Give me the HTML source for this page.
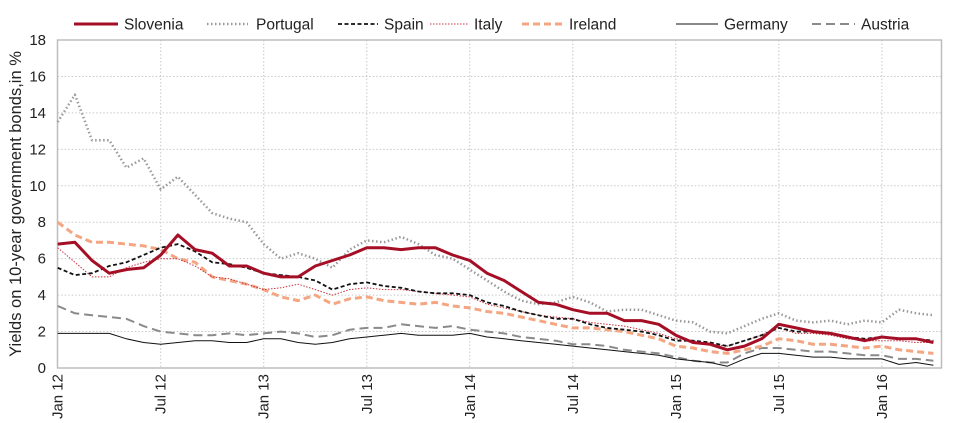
<!DOCTYPE html>
<html><head><meta charset="utf-8"><style>
body{margin:0;background:#fff;}
svg{display:block;font-family:"Liberation Sans",sans-serif;}
</style></head><body>
<svg id="chart" width="960" height="423" viewBox="0 0 960 423" xmlns="http://www.w3.org/2000/svg">
<g id="grid"></g>
<rect x="57.5" y="40" width="884" height="328" fill="none" stroke="#bdbdbd" stroke-width="1.5"/>
<g id="series"></g>
<g id="yticks"></g>
<g id="xticks"></g>
<text transform="translate(21,204) rotate(-90)" text-anchor="middle" font-size="16.5" fill="#222">Yields on 10-year government bonds,in %</text>
<g id="legend"></g>
</svg>
<script>
const months = [0,1,2,3,4,5,6,7,8,9,10,11,12,13,14,15,16,17,18,19,20,21,22,23,24,25,26,27,28,29,30,31,32,33,34,35,36,37,38,39,40,41,42,43,44,45,46,47,48,49,50,51];
const slovenia = [6.8,6.9,5.9,5.2,5.4,5.5,6.2,7.3,6.5,6.3,5.6,5.6,5.2,5.0,5.0,5.6,5.9,6.2,6.6,6.6,6.5,6.6,6.6,6.2,5.9,5.2,4.8,4.2,3.6,3.5,3.2,3.0,3.0,2.6,2.6,2.4,1.8,1.4,1.3,1.0,1.2,1.6,2.4,2.2,2.0,1.9,1.7,1.5,1.7,1.6,1.6,1.4];
const portugal = [13.5,15.0,12.5,12.5,11.0,11.5,9.8,10.5,9.5,8.5,8.2,8.0,6.8,6.0,6.3,6.0,5.5,6.5,7.0,6.9,7.2,6.8,6.2,6.0,5.4,4.8,4.2,3.7,3.5,3.6,3.9,3.6,3.1,3.2,3.2,2.9,2.6,2.5,2.0,1.9,2.3,2.7,3.0,2.6,2.5,2.6,2.4,2.6,2.5,3.2,3.0,2.9];
const spain = [5.5,5.1,5.2,5.6,5.8,6.2,6.6,6.8,6.4,5.8,5.7,5.5,5.2,5.1,5.0,4.8,4.3,4.6,4.7,4.5,4.4,4.2,4.1,4.1,4.0,3.6,3.4,3.1,2.9,2.7,2.7,2.4,2.2,2.1,2.0,1.8,1.5,1.5,1.4,1.2,1.5,1.8,2.2,2.0,2.0,1.9,1.7,1.6,1.7,1.6,1.6,1.5];
const italy = [6.6,5.8,5.0,5.0,5.5,5.8,6.0,6.0,5.6,5.0,4.9,4.6,4.3,4.4,4.6,4.3,4.0,4.3,4.4,4.3,4.3,4.2,4.1,4.0,3.9,3.5,3.3,3.1,2.9,2.8,2.7,2.5,2.4,2.3,2.1,1.9,1.6,1.5,1.3,1.2,1.5,1.8,2.2,1.9,1.9,1.8,1.6,1.5,1.5,1.5,1.4,1.4];
const ireland = [8.0,7.3,6.9,6.9,6.8,6.7,6.5,6.0,5.8,5.0,4.8,4.6,4.3,3.9,3.7,4.0,3.5,3.8,3.9,3.7,3.6,3.5,3.6,3.4,3.3,3.1,3.0,2.8,2.6,2.4,2.2,2.2,2.1,2.0,1.8,1.6,1.2,1.1,0.9,0.8,1.0,1.2,1.6,1.5,1.3,1.3,1.2,1.1,1.2,1.0,0.9,0.8];
const germany = [1.9,1.9,1.9,1.9,1.6,1.4,1.3,1.4,1.5,1.5,1.4,1.4,1.6,1.6,1.4,1.3,1.4,1.6,1.7,1.8,1.9,1.8,1.8,1.8,1.9,1.7,1.6,1.5,1.4,1.3,1.2,1.1,1.0,0.9,0.8,0.7,0.5,0.4,0.3,0.1,0.5,0.8,0.8,0.7,0.6,0.6,0.5,0.5,0.5,0.2,0.3,0.15];
const austria = [3.4,3.0,2.9,2.8,2.7,2.3,2.0,1.9,1.8,1.8,1.9,1.8,1.9,2.0,1.9,1.7,1.8,2.1,2.2,2.2,2.4,2.3,2.2,2.3,2.1,2.0,1.9,1.7,1.6,1.5,1.3,1.3,1.2,1.0,0.9,0.8,0.6,0.4,0.3,0.3,0.8,1.1,1.1,1.0,0.9,0.9,0.8,0.7,0.7,0.5,0.5,0.4];
const yTicks = [0,2,4,6,8,10,12,14,16,18];
const xTickLabels = ["Jan 12","Jul 12","Jan 13","Jul 13","Jan 14","Jul 14","Jan 15","Jul 15","Jan 16"];
const xTickMonths = [0,6,12,18,24,30,36,42,48];

const NS="http://www.w3.org/2000/svg";
const X0=57.7, PX_PER_MONTH=17.17, Y0=368, Y1=40, YMAX=18;
function xs(m){return X0+m*PX_PER_MONTH;}
function ys(v){return Y0-(v/YMAX)*(Y0-Y1);}
function mk(tag,attrs,parent){const e=document.createElementNS(NS,tag);for(const k in attrs)e.setAttribute(k,attrs[k]);parent.appendChild(e);return e;}

const grid=document.getElementById('grid');
yTicks.forEach(v=>{ if(v===0||v===18)return;
  const l=mk('line',{x1:X0,x2:941.5,y1:ys(v),y2:ys(v),stroke:'#c8c8c8','stroke-width':1,'stroke-dasharray':'1.5,2'},grid);
  
  
});
xTickMonths.forEach(m=>{ if(m===0)return;
  const l=mk('line',{x1:xs(m),x2:xs(m),y1:Y1,y2:Y0,stroke:'#c8c8c8','stroke-width':1,'stroke-dasharray':'1.5,2'},grid);
  
  
});
const yt=document.getElementById('yticks');
yTicks.forEach(v=>{
  const t=mk('text',{x:46,y:ys(v)+5,'text-anchor':'end','font-size':15,fill:'#222'},yt);
  t.textContent=v;
  
  
});
const xt=document.getElementById('xticks');
xTickMonths.forEach((m,i)=>{
  const t=mk('text',{transform:`translate(${xs(m)+5},374) rotate(-90)`,'text-anchor':'end','font-size':15,fill:'#222'},xt);
  t.textContent=xTickLabels[i];
  
  
});

const styles=[
 {name:'Austria',data:austria,stroke:'#8a8a8a',w:2,dash:'9,5'},
 {name:'Germany',data:germany,stroke:'#111',w:1,dash:''},
 {name:'Ireland',data:ireland,stroke:'#f4a582',w:3,dash:'7,4'},
 {name:'Portugal',data:portugal,stroke:'#999',w:2.5,dash:'1.5,2.5'},
 {name:'Italy',data:italy,stroke:'#c8323f',w:1,dash:'1.5,1.5'},
 {name:'Spain',data:spain,stroke:'#111',w:1.8,dash:'4,2.5'},
 {name:'Slovenia',data:slovenia,stroke:'#a50f26',w:3,dash:''}
];
const sg=document.getElementById('series');
styles.forEach(s=>{
  const d=s.data.map((v,i)=>(i?'L':'M')+xs(months[i]).toFixed(1)+','+ys(v).toFixed(1)).join(' ');
  const p=mk('path',{d:d,fill:'none',stroke:s.stroke,'stroke-width':s.w,'stroke-linejoin':'round'},sg);
  if(s.dash)p.setAttribute('stroke-dasharray',s.dash);
  
  
});

const legendItems=[
 {name:'Slovenia',x1:74,x2:118,tx:124},
 {name:'Portugal',x1:207,x2:248,tx:256},
 {name:'Spain',x1:338,x2:378,tx:384},
 {name:'Italy',x1:430,x2:468,tx:474},
 {name:'Ireland',x1:522,x2:563,tx:569},
 {name:'Germany',x1:676,x2:718,tx:724},
 {name:'Austria',x1:812,x2:855,tx:861}
];
const lg=document.getElementById('legend');
legendItems.forEach(it=>{
  const s=styles.find(q=>q.name===it.name);
  const g=mk('g',{},lg);
  
  
  const l=mk('line',{x1:it.x1,x2:it.x2,y1:24,y2:24,stroke:s.stroke,'stroke-width':s.w},g);
  if(s.dash)l.setAttribute('stroke-dasharray',s.dash);
  const t=mk('text',{x:it.tx,y:29.5,'font-size':15.5,fill:'#222'},g);
  t.textContent=it.name;
});
</script>
</body></html>
